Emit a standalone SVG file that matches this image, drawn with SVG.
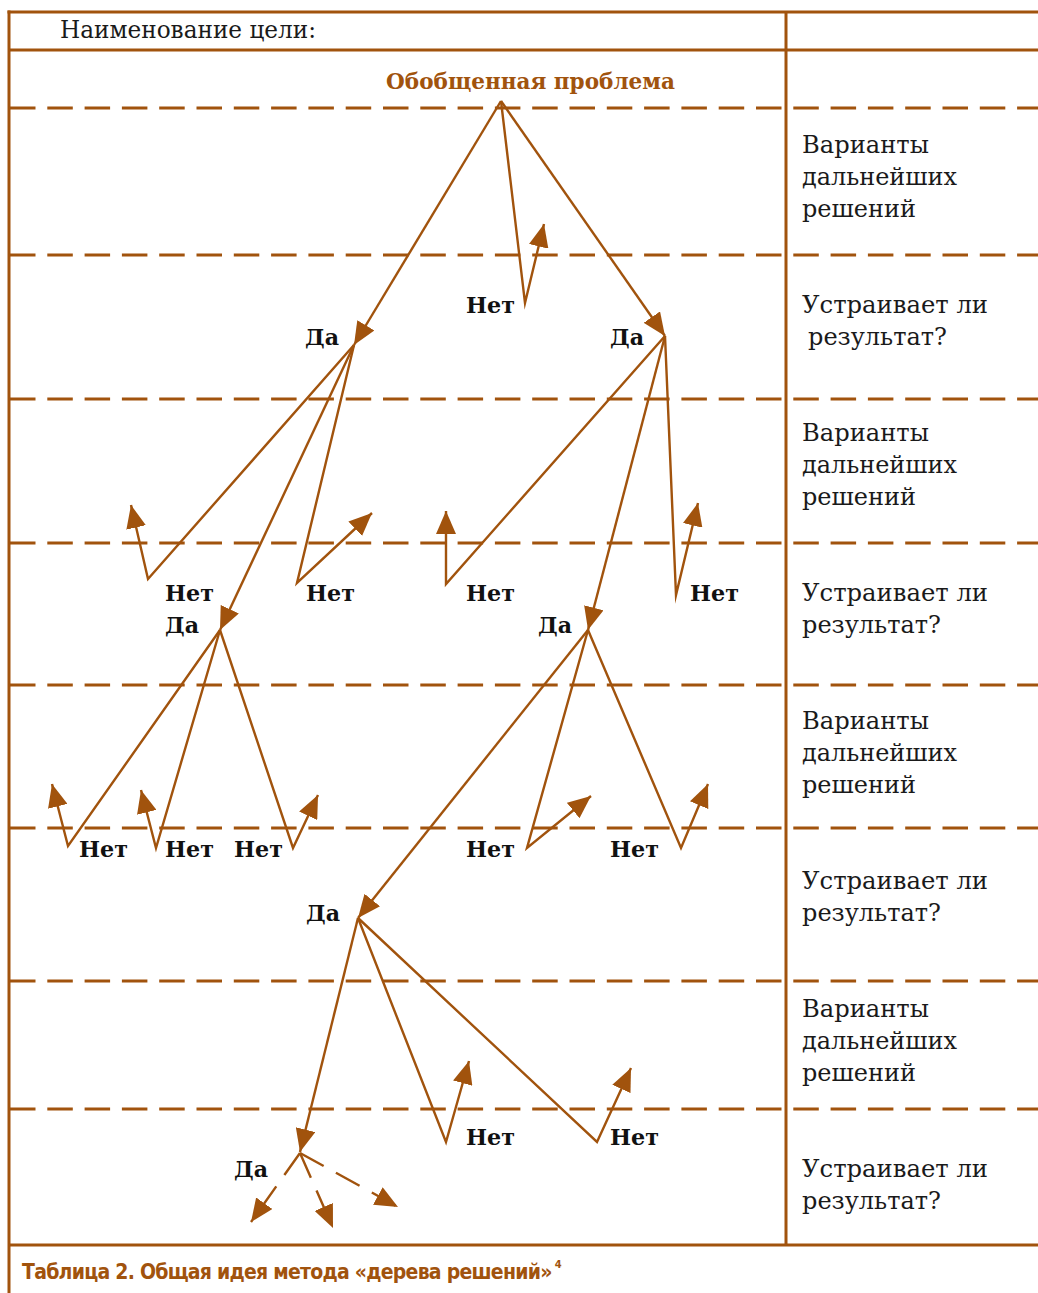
<svg xmlns="http://www.w3.org/2000/svg" width="1038" height="1293" viewBox="0 0 1038 1293">
  <style>
    .frame { stroke: #A1530D; stroke-width: 3; fill: none; }
    .dash { stroke: #A1530D; stroke-width: 3; stroke-dasharray: 25.5 11.8; fill: none; }
    .conn { stroke: #A1530D; stroke-width: 2.4; fill: none; stroke-linejoin: miter; stroke-miterlimit: 10; }
    .conn-d { stroke: #A1530D; stroke-width: 2.4; fill: none; stroke-dasharray: 27 14; }
    .t { font-family: "DejaVu Serif", "Liberation Serif", serif; font-size: 24px; fill: #1a1a1a; }
    .lb { font-family: "DejaVu Serif", "Liberation Serif", serif; font-size: 23px; font-weight: bold; fill: #111; }
    .head { font-family: "DejaVu Serif", "Liberation Serif", serif; font-size: 23px; font-weight: bold; fill: #A1530D; }
    .cap { font-family: "DejaVu Sans Condensed", "DejaVu Sans", "Liberation Sans", sans-serif; font-stretch: condensed; font-weight: bold; font-size: 21px; letter-spacing: -0.75px; fill: #A1530D; }
    .sup { font-size: 11px; letter-spacing: 0; }
  </style>
  <defs>
    <marker id="ah" viewBox="0 0 23 20" refX="23" refY="10" markerWidth="23" markerHeight="20" markerUnits="userSpaceOnUse" orient="auto">
      <path d="M0,0 L23,10 L0,20 z" fill="#A1530D"/>
    </marker>
  </defs>

  <rect width="1038" height="1293" fill="#ffffff"/>

  <!-- table grid -->
  <g id="grid">
    <line class="frame" x1="9" y1="10.5" x2="9" y2="1293"/>
    <line class="frame" x1="7.5" y1="12" x2="1038" y2="12"/>
    <line class="frame" x1="9" y1="50" x2="1038" y2="50"/>
    <line class="frame" x1="9" y1="1245" x2="1038" y2="1245"/>
    <line class="frame" x1="786" y1="12" x2="786" y2="1245"/>
    <line class="dash" x1="10" y1="108" x2="1038" y2="108"/>
    <line class="dash" x1="10" y1="255" x2="1038" y2="255"/>
    <line class="dash" x1="10" y1="399" x2="1038" y2="399"/>
    <line class="dash" x1="10" y1="543" x2="1038" y2="543"/>
    <line class="dash" x1="10" y1="685" x2="1038" y2="685"/>
    <line class="dash" x1="10" y1="828" x2="1038" y2="828"/>
    <line class="dash" x1="10" y1="981" x2="1038" y2="981"/>
    <line class="dash" x1="10" y1="1109" x2="1038" y2="1109"/>
  </g>

  <!-- header texts -->
  <g id="goal-title"><text class="t" x="60" y="38" textLength="256" lengthAdjust="spacingAndGlyphs">Наименование цели:</text></g>
  <g id="root"><text class="head" x="386" y="89" textLength="289" lengthAdjust="spacingAndGlyphs">Обобщенная проблема</text></g>

  <!-- right column -->
  <g id="col-r1"><text class="t" x="802" y="153" textLength="127" lengthAdjust="spacingAndGlyphs">Варианты</text><text class="t" x="802" y="185" textLength="155" lengthAdjust="spacingAndGlyphs">дальнейших</text><text class="t" x="802" y="217" textLength="114" lengthAdjust="spacingAndGlyphs">решений</text></g>
  <g id="col-q1"><text class="t" x="802" y="313" textLength="186" lengthAdjust="spacingAndGlyphs">Устраивает ли</text><text class="t" x="808" y="345" textLength="139" lengthAdjust="spacingAndGlyphs">результат?</text></g>
  <g id="col-r2"><text class="t" x="802" y="441" textLength="127" lengthAdjust="spacingAndGlyphs">Варианты</text><text class="t" x="802" y="473" textLength="155" lengthAdjust="spacingAndGlyphs">дальнейших</text><text class="t" x="802" y="505" textLength="114" lengthAdjust="spacingAndGlyphs">решений</text></g>
  <g id="col-q2"><text class="t" x="802" y="601" textLength="186" lengthAdjust="spacingAndGlyphs">Устраивает ли</text><text class="t" x="802" y="633" textLength="139" lengthAdjust="spacingAndGlyphs">результат?</text></g>
  <g id="col-r3"><text class="t" x="802" y="729" textLength="127" lengthAdjust="spacingAndGlyphs">Варианты</text><text class="t" x="802" y="761" textLength="155" lengthAdjust="spacingAndGlyphs">дальнейших</text><text class="t" x="802" y="793" textLength="114" lengthAdjust="spacingAndGlyphs">решений</text></g>
  <g id="col-q3"><text class="t" x="802" y="889" textLength="186" lengthAdjust="spacingAndGlyphs">Устраивает ли</text><text class="t" x="802" y="921" textLength="139" lengthAdjust="spacingAndGlyphs">результат?</text></g>
  <g id="col-r4"><text class="t" x="802" y="1017" textLength="127" lengthAdjust="spacingAndGlyphs">Варианты</text><text class="t" x="802" y="1049" textLength="155" lengthAdjust="spacingAndGlyphs">дальнейших</text><text class="t" x="802" y="1081" textLength="114" lengthAdjust="spacingAndGlyphs">решений</text></g>
  <g id="col-q4"><text class="t" x="802" y="1177" textLength="186" lengthAdjust="spacingAndGlyphs">Устраивает ли</text><text class="t" x="802" y="1209" textLength="139" lengthAdjust="spacingAndGlyphs">результат?</text></g>

  <!-- decision tree connectors -->
  <g id="connectors">
    <!-- level 1 -->
    <path class="conn" marker-end="url(#ah)" d="M501,101 L354,345"/>
    <path class="conn" marker-end="url(#ah)" d="M501,101 L525,303 L544,224"/>
    <path class="conn" marker-end="url(#ah)" d="M501,101 L665,336"/>
    <!-- level 2, left -->
    <path class="conn" marker-end="url(#ah)" d="M354,345 L148,579 L131,505"/>
    <path class="conn" marker-end="url(#ah)" d="M354,345 L220,630"/>
    <path class="conn" marker-end="url(#ah)" d="M354,345 L297,583 L372,513"/>
    <!-- level 2, right -->
    <path class="conn" marker-end="url(#ah)" d="M665,336 L446,584 L446,511"/>
    <path class="conn" marker-end="url(#ah)" d="M665,336 L588,630"/>
    <path class="conn" marker-end="url(#ah)" d="M665,336 L676,595 L698,503"/>
    <!-- level 3, left -->
    <path class="conn" marker-end="url(#ah)" d="M220,630 L68,846 L52,784"/>
    <path class="conn" marker-end="url(#ah)" d="M220,630 L156,848 L141,790"/>
    <path class="conn" marker-end="url(#ah)" d="M220,630 L293,848 L318,795"/>
    <!-- level 3, right -->
    <path class="conn" marker-end="url(#ah)" d="M588,630 L358,918"/>
    <path class="conn" marker-end="url(#ah)" d="M588,630 L527,848 L591,796"/>
    <path class="conn" marker-end="url(#ah)" d="M588,630 L681,848 L708,784"/>
    <!-- level 4 -->
    <path class="conn" marker-end="url(#ah)" d="M358,918 L300,1152"/>
    <path class="conn" marker-end="url(#ah)" d="M358,918 L446,1142 L469,1061"/>
    <path class="conn" marker-end="url(#ah)" d="M358,918 L597,1142 L631,1068"/>
    <!-- further options, dashed -->
    <path class="conn-d" marker-end="url(#ah)" d="M300,1153 L251,1222"/>
    <path class="conn-d" marker-end="url(#ah)" d="M300,1153 L333,1228"/>
    <path class="conn-d" marker-end="url(#ah)" d="M300,1153 L398,1207"/>
  </g>

  <!-- answer labels -->
  <g id="no-1"><text class="lb" x="466" y="313" textLength="49" lengthAdjust="spacingAndGlyphs">Нет</text></g>
  <g id="yes-1a"><text class="lb" x="305" y="345" textLength="34" lengthAdjust="spacingAndGlyphs">Да</text></g>
  <g id="yes-1b"><text class="lb" x="610" y="345" textLength="34" lengthAdjust="spacingAndGlyphs">Да</text></g>

  <g id="no-2a"><text class="lb" x="165" y="601" textLength="49" lengthAdjust="spacingAndGlyphs">Нет</text></g>
  <g id="yes-2a"><text class="lb" x="165" y="633" textLength="34" lengthAdjust="spacingAndGlyphs">Да</text></g>
  <g id="no-2b"><text class="lb" x="306" y="601" textLength="49" lengthAdjust="spacingAndGlyphs">Нет</text></g>
  <g id="no-2c"><text class="lb" x="466" y="601" textLength="49" lengthAdjust="spacingAndGlyphs">Нет</text></g>
  <g id="yes-2b"><text class="lb" x="538" y="633" textLength="34" lengthAdjust="spacingAndGlyphs">Да</text></g>
  <g id="no-2d"><text class="lb" x="690" y="601" textLength="49" lengthAdjust="spacingAndGlyphs">Нет</text></g>

  <g id="no-3a"><text class="lb" x="79" y="857" textLength="49" lengthAdjust="spacingAndGlyphs">Нет</text></g>
  <g id="no-3b"><text class="lb" x="165" y="857" textLength="49" lengthAdjust="spacingAndGlyphs">Нет</text></g>
  <g id="no-3c"><text class="lb" x="234" y="857" textLength="49" lengthAdjust="spacingAndGlyphs">Нет</text></g>
  <g id="no-3d"><text class="lb" x="466" y="857" textLength="49" lengthAdjust="spacingAndGlyphs">Нет</text></g>
  <g id="no-3e"><text class="lb" x="610" y="857" textLength="49" lengthAdjust="spacingAndGlyphs">Нет</text></g>
  <g id="yes-3"><text class="lb" x="306" y="921" textLength="34" lengthAdjust="spacingAndGlyphs">Да</text></g>

  <g id="no-4a"><text class="lb" x="466" y="1145" textLength="49" lengthAdjust="spacingAndGlyphs">Нет</text></g>
  <g id="no-4b"><text class="lb" x="610" y="1145" textLength="49" lengthAdjust="spacingAndGlyphs">Нет</text></g>
  <g id="yes-4"><text class="lb" x="234" y="1177" textLength="34" lengthAdjust="spacingAndGlyphs">Да</text></g>

  <!-- caption with footnote mark -->
  <g id="caption">
    <text class="cap" x="22" y="1279">Таблица 2. Общая идея метода «дерева решений»<tspan class="sup" dx="3" dy="-11">4</tspan></text>
  </g>
</svg>
